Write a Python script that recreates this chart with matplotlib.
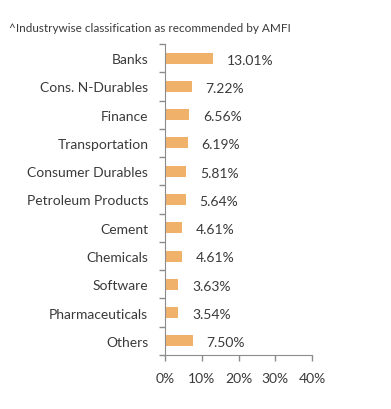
import matplotlib
matplotlib.use("Agg")
import matplotlib.pyplot as plt
import numpy as np

categories = ["Banks", "Cons. N-Durables", "Finance", "Transportation",
              "Consumer Durables", "Petroleum Products", "Cement", "Chemicals",
              "Software", "Pharmaceuticals", "Others"]
values = [13.01, 7.22, 6.56, 6.19, 5.81, 5.64, 4.61, 4.61, 3.63, 3.54, 7.50]
xticks = [0, 10, 20, 30, 40]

plt.rcParams["font.family"] = ["Lato", "DejaVu Sans"]
text_color = "#3a3a3a"
axis_color = "#8c8c8c"
bar_color = "#f0b26b"

fig = plt.figure(figsize=(3.91, 4.10), dpi=100)
ax = fig.add_axes([165 / 391, 1 - 356 / 410, (312 - 165) / 391, (356 - 45) / 410])

y = np.arange(len(categories))
ax.barh(y, values, height=0.39, color=bar_color)
ax.set_ylim(len(categories) - 0.5, -0.5)
ax.set_xlim(0, 40)

# value labels
for yi, v in zip(y, values):
    ax.annotate(f"{v:.2f}%", (v, yi), xytext=(10, -1), textcoords="offset points",
                ha="left", va="center", fontsize=10, color=text_color)

ax.set_xticks(xticks)
ax.set_xticklabels([f"{t}%" for t in xticks], fontsize=10, color=text_color)
ax.set_yticks(y)
ax.set_yticklabels(categories, fontsize=10, color=text_color)
ax.set_yticks(np.arange(len(categories) + 1) - 0.5, minor=True)
ax.tick_params(axis="y", which="major", length=0, pad=12)
ax.tick_params(axis="y", which="minor", length=4, color=axis_color, width=1)
ax.tick_params(axis="x", length=4, color=axis_color, width=1, pad=8)

for side in ["top", "right"]:
    ax.spines[side].set_visible(False)
for side in ["left", "bottom"]:
    ax.spines[side].set_color(axis_color)

fig.text(9 / 391, 1 - 28 / 410, "^Industrywise classification as recommended by AMFI",
         fontsize=8.5, color=text_color, va="center", ha="left")

fig.savefig("out.png", dpi=100)
